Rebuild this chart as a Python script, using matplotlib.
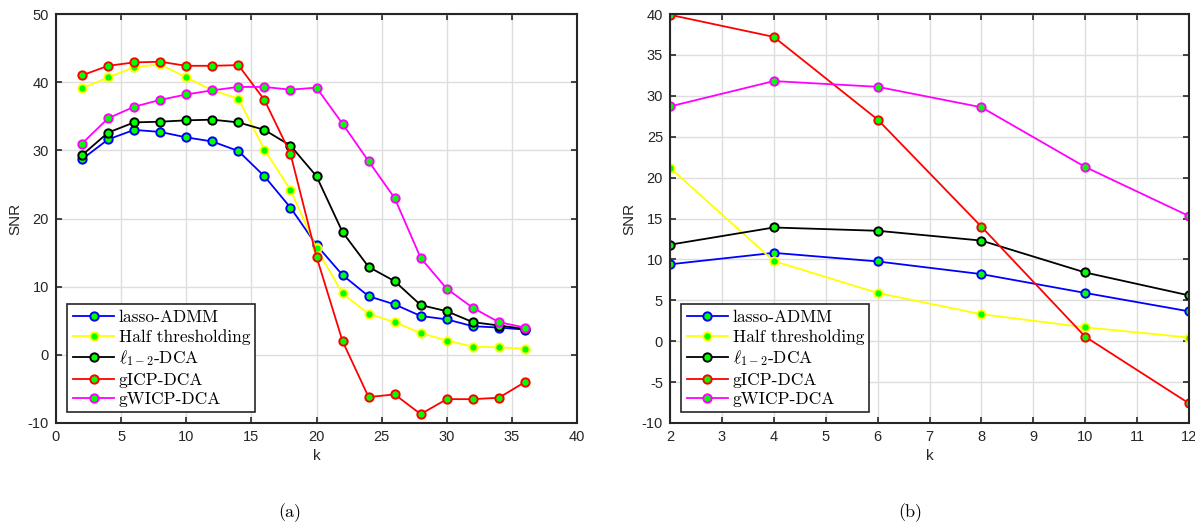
import numpy as np
import matplotlib
matplotlib.use("Agg")
import matplotlib.pyplot as plt

# ---- data ----
k_a = [2, 4, 6, 8, 10, 12, 14, 16, 18, 20, 22, 24, 26, 28, 30, 32, 34, 36]
lasso_a = [28.7, 31.6, 33.0, 32.7, 31.9, 31.3, 29.9, 26.2, 21.6, 16.1, 11.7, 8.6, 7.4, 5.7, 5.2, 4.2, 4.0, 3.7]
half_a = [39.1, 40.7, 42.2, 42.6, 40.7, 38.8, 37.6, 30.1, 24.2, 15.6, 9.0, 6.0, 4.8, 3.2, 2.1, 1.2, 1.1, 0.9]
l12_a = [29.3, 32.6, 34.1, 34.2, 34.4, 34.5, 34.1, 33.0, 30.7, 26.2, 18.0, 12.9, 10.8, 7.3, 6.4, 4.8, 4.3, 3.8]
gicp_a = [41.0, 42.4, 42.9, 43.0, 42.4, 42.4, 42.5, 37.4, 29.5, 14.4, 2.0, -6.2, -5.8, -8.7, -6.5, -6.5, -6.3, -4.0]
gwicp_a = [31.0, 34.7, 36.4, 37.4, 38.2, 38.8, 39.3, 39.3, 38.9, 39.2, 33.9, 28.4, 23.0, 14.2, 9.7, 6.9, 4.8, 4.0]

k_b = [2, 4, 6, 8, 10, 12]
lasso_b = [9.4, 10.8, 9.75, 8.2, 5.9, 3.65]
half_b = [21.2, 9.8, 5.9, 3.3, 1.7, 0.45]
l12_b = [11.8, 13.9, 13.5, 12.3, 8.4, 5.6]
gicp_b = [39.9, 37.2, 27.1, 14.0, 0.55, -7.6]
gwicp_b = [28.7, 31.8, 31.1, 28.6, 21.3, 15.3]

labels = ["lasso-ADMM", "Half thresholding", r"$\ell_{1-2}$-DCA", "gICP-DCA", "gWICP-DCA"]
colors = ["#0000ff", "#ffff00", "#000000", "#ff0000", "#ff00ff"]

plt.rcParams["mathtext.fontset"] = "cm"
plt.rcParams["axes.unicode_minus"] = False
plt.rcParams["font.family"] = ["Liberation Sans", "DejaVu Sans"]

fig = plt.figure(figsize=(11.95, 5.24), dpi=100)
W, H = 1195.0, 524.0


def make_axes(x0, x1, y0, y1):
    return fig.add_axes([x0 / W, 1 - y1 / H, (x1 - x0) / W, (y1 - y0) / H])


def draw(ax, k, series, xlim, xticks, ylim, yticks):
    for ys, lab, c in zip(series, labels, colors):
        ax.plot(k, ys, color=c, lw=1.3, marker="o", ms=6, mfc="#00ff00",
                mec=c, mew=1.4, label=lab)
    ax.set_xlim(*xlim)
    ax.set_ylim(*ylim)
    ax.set_xticks(xticks)
    ax.set_yticks(yticks)
    ax.grid(True, color="#dedede", lw=1.0)
    ax.set_axisbelow(True)
    ax.tick_params(direction="in", top=True, right=True, length=4, width=1.2,
                   labelsize=10.5, colors="#262626", pad=5)
    for s in ax.spines.values():
        s.set_linewidth(1.5)
        s.set_color("#262626")
    ax.set_xlabel("k", fontsize=11, color="#262626", labelpad=4)
    ax.set_ylabel("SNR", fontsize=11, color="#262626", labelpad=4)
    leg = ax.legend(loc="lower left", bbox_to_anchor=(0.022, 0.027), borderaxespad=0,
                    prop={"family": "cmr10", "size": 12.5}, fancybox=False,
                    framealpha=1, edgecolor="#262626", handlelength=2.4,
                    handletextpad=0.25, labelspacing=0.22, borderpad=0.3)
    leg.get_frame().set_linewidth(1.2)


ax1 = make_axes(56, 577, 14, 423)
draw(ax1, k_a, [lasso_a, half_a, l12_a, gicp_a, gwicp_a],
     (0, 40), range(0, 41, 5), (-10, 50), range(-10, 51, 10))

ax2 = make_axes(670, 1189, 14, 423)
draw(ax2, k_b, [lasso_b, half_b, l12_b, gicp_b, gwicp_b],
     (2, 12), range(2, 13), (-10, 40), range(-10, 41, 5))

fig.text(290 / W, 1 - 513 / H, "(a)", family="cmr10", fontsize=13, ha="center", va="center")
fig.text(910 / W, 1 - 513 / H, "(b)", family="cmr10", fontsize=13, ha="center", va="center")

fig.savefig("out.png", dpi=100)
